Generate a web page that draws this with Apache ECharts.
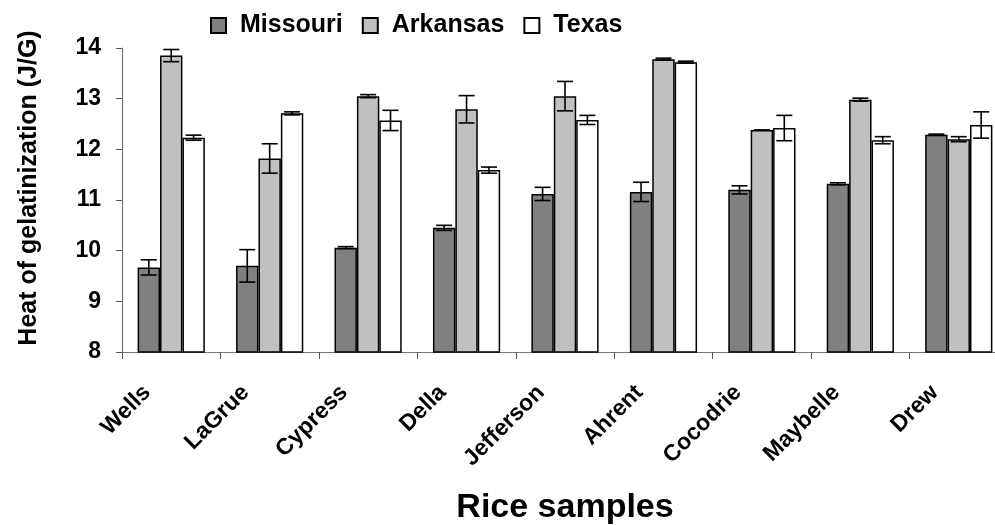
<!DOCTYPE html>
<html>
<head>
<meta charset="utf-8">
<script src="https://cdn.jsdelivr.net/npm/echarts@6/dist/echarts.min.js"></script>
<style>html,body{margin:0;padding:0;background:#fff;}#chart{width:995px;height:525px;}</style>
</head>
<body>
<div id="chart"></div>
<script>
var categories = ['Wells', 'LaGrue', 'Cypress', 'Della', 'Jefferson', 'Ahrent', 'Cocodrie', 'Maybelle', 'Drew'];
var missouri = [9.67, 9.70, 10.06, 10.45, 11.12, 11.16, 11.20, 11.32, 12.29];
var arkansas = [13.85, 11.82, 13.05, 12.79, 13.05, 13.78, 12.38, 12.98, 12.20];
var texas = [12.23, 12.71, 12.57, 11.59, 12.58, 13.72, 12.42, 12.18, 12.48];
var missouriErr = [0.15, 0.32, 0.02, 0.05, 0.13, 0.19, 0.08, 0.02, 0.01];
var arkansasErr = [0.12, 0.29, 0.03, 0.27, 0.29, 0.02, 0.00, 0.03, 0.05];
var texasErr = [0.05, 0.03, 0.20, 0.06, 0.09, 0.02, 0.25, 0.07, 0.26];
var seriesNames = ['Missouri', 'Arkansas', 'Texas'];
var yTicks = [8, 9, 10, 11, 12, 13, 14];

var FONT = '"Liberation Sans", Arial, sans-serif';
var BAR_W = 22.4;
var colors = ['#808080', '#c0c0c0', '#ffffff'];
var values = [missouri, arkansas, texas];
var errs = [missouriErr, arkansasErr, texasErr];

var chart = echarts.init(document.getElementById('chart'), null, {renderer: 'canvas'});

function errSeries(k) {
  var offset = (k - 1) * BAR_W;
  var data = categories.map(function (c, i) { return [i, values[k][i], errs[k][i]]; });
  return {
    type: 'custom',
    name: seriesNames[k] + ' err',
    data: data,
    z: 10,
    silent: true,
    renderItem: function (params, api) {
      var i = api.value(0), v = api.value(1), e = api.value(2);
      var top = api.coord([i, v + e]);
      var bot = api.coord([i, v - e]);
      var x = top[0] + offset;
      var half = 8;
      var st = {stroke: '#000', lineWidth: 1.6};
      return {
        type: 'group',
        children: [
          {type: 'line', shape: {x1: x, y1: top[1], x2: x, y2: bot[1]}, style: st},
          {type: 'line', shape: {x1: x - half, y1: top[1], x2: x + half, y2: top[1]}, style: st},
          {type: 'line', shape: {x1: x - half, y1: bot[1], x2: x + half, y2: bot[1]}, style: st}
        ]
      };
    }
  };
}

var series = [];
for (var k = 0; k < 3; k++) {
  series.push({
    type: 'bar',
    name: seriesNames[k],
    data: values[k],
    barWidth: BAR_W,
    barGap: '0%',
    itemStyle: {color: colors[k], borderColor: '#000', borderWidth: 1.5},
    emphasis: {disabled: true}
  });
}
for (var k2 = 0; k2 < 3; k2++) series.push(errSeries(k2));

chart.setOption({
  animation: false,
  backgroundColor: '#ffffff',
  grid: {left: 122, right: -13, top: 48, bottom: 173, containLabel: false, outerBoundsMode: 'none'},
  legend: {
    data: seriesNames,
    left: 205, top: 8,
    itemWidth: 15, itemHeight: 15, itemGap: 19,
    icon: 'rect',
    textStyle: {fontFamily: FONT, fontWeight: 'bold', fontSize: 25, color: '#000', padding: [0, 0, 0, 9]}
  },
  xAxis: {
    type: 'category',
    data: categories,
    name: 'Rice samples',
    nameLocation: 'middle',
    nameGap: 139,
    nameTextStyle: {fontFamily: FONT, fontWeight: 'bold', fontSize: 34, color: '#000'},
    axisLine: {lineStyle: {color: '#777', width: 1.2}},
    axisTick: {show: true, length: 7, lineStyle: {color: '#555'}},
    axisLabel: {
      rotate: 45, margin: 13, interval: 0,
      fontFamily: FONT, fontWeight: 'bold', fontSize: 23, color: '#000',
      padding: [0, 34, 0, 0]
    }
  },
  yAxis: {
    type: 'value',
    min: 8, max: 14, interval: 1,
    name: 'Heat of gelatinization (J/G)',
    nameLocation: 'middle',
    nameGap: 80,
    nameTextStyle: {fontFamily: FONT, fontWeight: 'bold', fontSize: 25, color: '#000', padding: [0, 0, 0, 24]},
    axisLine: {show: true, lineStyle: {color: '#777', width: 1.2}},
    axisTick: {show: true, length: 6, lineStyle: {color: '#555'}},
    splitLine: {show: false},
    axisLabel: {
      margin: 21,
      fontFamily: FONT, fontWeight: 'bold', fontSize: 23, color: '#000',
      formatter: function (v) { return yTicks.indexOf(v) >= 0 ? String(v) : ''; }
    }
  },
  series: series
});
</script>
</body>
</html>
